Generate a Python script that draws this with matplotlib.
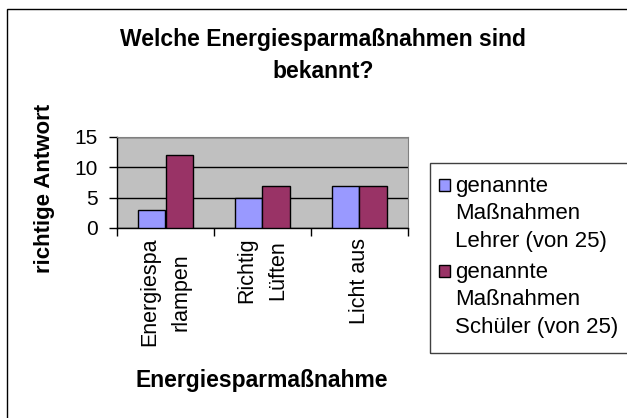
import numpy as np
import matplotlib
matplotlib.use("Agg")
import matplotlib.pyplot as plt
from matplotlib.patches import Rectangle

plt.rcParams['font.family'] = ['Liberation Sans', 'DejaVu Sans']

title = "Welche Energiesparmaßnahmen sind\nbekannt?"
categories = ["Energiespa\nrlampen", "Richtig\nLüften", "Licht aus"]
series_names = ["genannte\nMaßnahmen\nLehrer (von 25)", "genannte\nMaßnahmen\nSchüler (von 25)"]
lehrer = [3, 5, 7]
schueler = [12, 7, 7]
y_ticks = [0, 5, 10, 15]
colors = ["#9999FF", "#993366"]

fig = plt.figure(figsize=(6.27, 4.18), dpi=100)
W, H = 627, 418

# outer chart frame (cut off on the right and bottom like the screenshot)
fig.patches.append(Rectangle((7 / W, -0.1), 1.2, 1 - 9 / H + 0.1, transform=fig.transFigure,
                             fill=False, edgecolor='black', linewidth=1.0))

ax = fig.add_axes([117 / W, 1 - 228 / H, (408 - 117) / W, (228 - 137) / H])
ax.set_facecolor('#C0C0C0')

x = np.arange(len(categories)) + 0.5
bw = 0.285
ax.bar(x - bw, lehrer, bw, align='edge', color=colors[0], edgecolor='black', linewidth=1.0, zorder=3)
ax.bar(x, schueler, bw, align='edge', color=colors[1], edgecolor='black', linewidth=1.0, zorder=3)

ax.set_xlim(0, len(categories))
ax.set_ylim(0, 15)
ax.set_yticks(y_ticks)
ax.yaxis.grid(True, color='black', linewidth=1.0, zorder=1)
ax.set_axisbelow(True)

ax.set_xticks(np.arange(len(categories) + 1))
ax.set_xticklabels([])
ax.set_xticks(x, minor=True)
ax.set_xticklabels(categories, minor=True, rotation=90, fontsize=15.5,
                   ha='center', va='top', multialignment='center')
for t in ax.get_xticklabels(minor=True):
    t.set_linespacing(1.65)
ax.tick_params(axis='x', which='minor', length=0, pad=7)
ax.tick_params(axis='x', which='major', length=6, width=1, direction='out')
ax.tick_params(axis='y', length=6, width=1, direction='out', labelsize=15, pad=8)

for s in ['top', 'right']:
    ax.spines[s].set_color('#808080')
for s in ['left', 'bottom']:
    ax.spines[s].set_color('black')
    ax.spines[s].set_linewidth(1.0)

fig.text(323 / W, 1 - 28 / H, title, ha='center', va='top', fontsize=16.5, fontweight='bold',
         linespacing=1.5)
fig.text(45 / W, 1 - 188 / H, "richtige Antwort", rotation=90, ha='center', va='center',
         fontsize=16, fontweight='bold')
fig.text(262 / W, 1 - 380 / H, "Energiesparmaßnahme", ha='center', va='center',
         fontsize=16.5, fontweight='bold')

# legend: frame, colour squares and labels
fig.patches.append(Rectangle((430 / W, 1 - 353 / H), 0.5, (353 - 163) / H, transform=fig.transFigure,
                             fill=False, edgecolor='#404040', linewidth=1.0))
entry_top = [176, 262]
for name, col, top in zip(series_names, colors, entry_top):
    fig.patches.append(Rectangle((439 / W, 1 - (top + 15) / H), 11 / W, 12 / H,
                                 transform=fig.transFigure, facecolor=col,
                                 edgecolor='black', linewidth=1.0))
    fig.text(455 / W, 1 - top / H, name, ha='left', va='top', fontsize=16, linespacing=1.4)

fig.savefig("out.png", dpi=100)
